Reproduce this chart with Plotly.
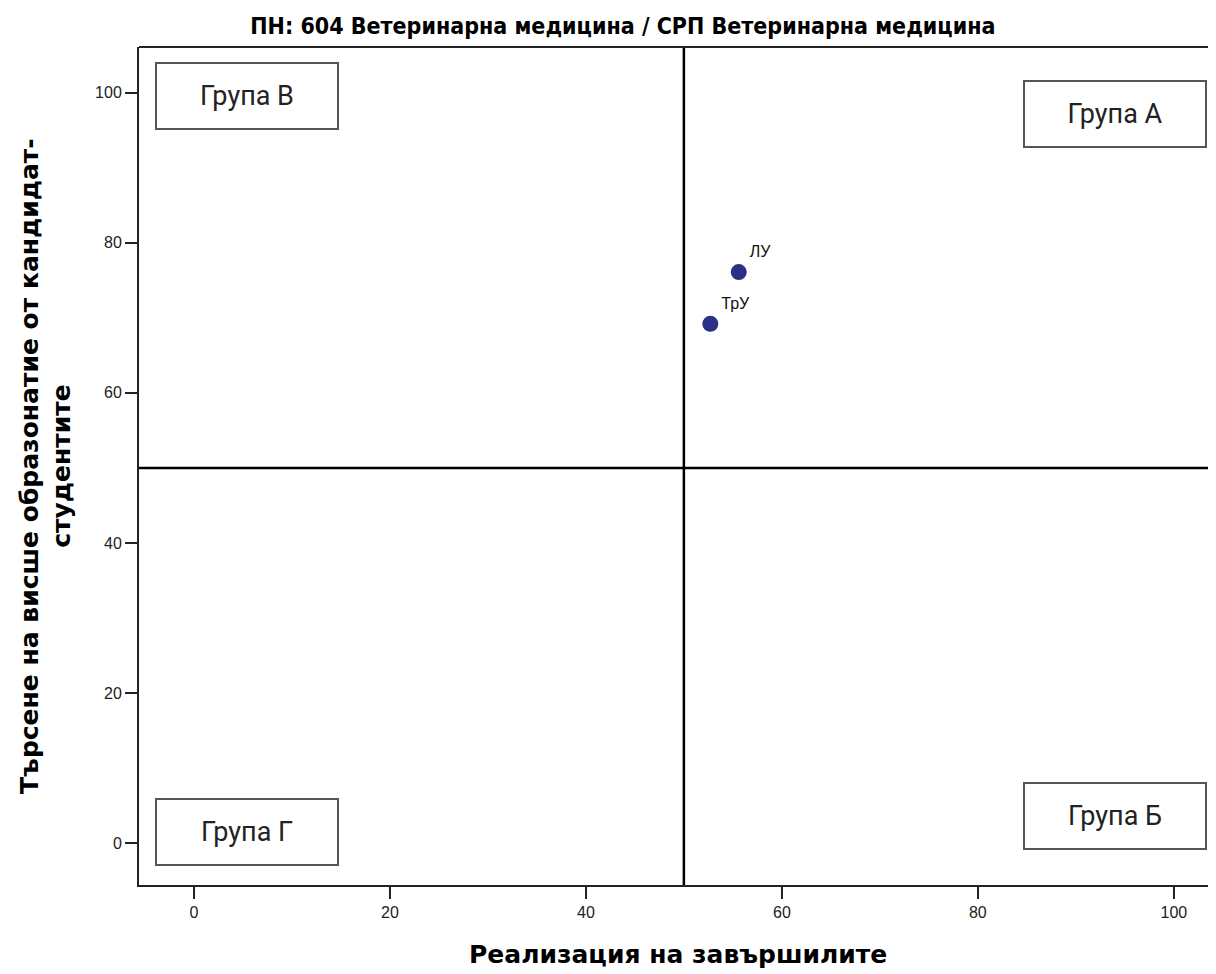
import plotly.graph_objects as go

# data
universities = ["ЛУ", "ТрУ"]
realization = [55.6, 52.7]
demand = [76.1, 69.2]

group_labels = ["Група В", "Група А", "Група Г", "Група Б"]
x_ticks = [0, 20, 40, 60, 80, 100]
y_ticks = [0, 20, 40, 60, 80, 100]

fig = go.Figure()

fig.add_trace(go.Scatter(
    x=realization, y=demand, mode="markers+text",
    text=universities, textposition="top right",
    textfont=dict(family="Liberation Sans, Arial", size=16, color="#111"),
    marker=dict(size=16, color="#2b2f86"),
    showlegend=False, cliponaxis=False,
))

# quadrant lines
fig.add_vline(x=50, line=dict(color="black", width=2.5))
fig.add_hline(y=50, line=dict(color="black", width=2.5))

# group boxes
box_pos = [(5.4, 99.6), (94.0, 97.2), (5.4, 1.5), (94.0, 3.6)]
for lab, (bx, by) in zip(group_labels, box_pos):
    fig.add_annotation(
        x=bx, y=by, xref="x", yref="y", text=lab, showarrow=False,
        font=dict(family="Roboto", size=27, color="#222"),
        bordercolor="#555", borderwidth=2, bgcolor="white",
        width=178, height=62, align="center", valign="middle",
    )

fig.update_xaxes(
    range=[-5.6, 104.3], tickvals=x_ticks, showgrid=False, zeroline=False,
    showline=True, linecolor="#222", linewidth=2, mirror=False,
    ticks="outside", ticklen=12, tickwidth=2, tickcolor="#222",
    tickfont=dict(family="Liberation Sans, Arial", size=16, color="#222"),
)
fig.update_yaxes(
    range=[-5.6, 106.1], tickvals=y_ticks, showgrid=False, zeroline=False,
    showline=True, linecolor="#222", linewidth=2,
    ticks="outside", ticklen=12, tickwidth=2, tickcolor="#222",
    tickfont=dict(family="Liberation Sans, Arial", size=16, color="#222"),
)

# top border
fig.add_shape(type="line", xref="paper", yref="paper", x0=0, x1=1, y0=1, y1=1,
              line=dict(color="#222", width=2))

fig.add_annotation(
    xref="paper", yref="paper", x=0.5, y=-0.0835, yanchor="middle",
    text="<b>Реализация на завършилите</b>", showarrow=False,
    font=dict(family="DejaVu Sans", size=25, color="black"),
)
fig.add_annotation(
    xref="paper", yref="paper", x=-0.0864, y=0.5, xanchor="center",
    text="<b>Търсене на висше образонатие от кандидат-<br>студентите</b>",
    showarrow=False, textangle=-90,
    font=dict(family="DejaVu Sans", size=25, color="black"),
)

fig.update_layout(
    width=1208, height=966,
    margin=dict(l=131, r=0, t=39, b=89),
    plot_bgcolor="white", paper_bgcolor="white",
    title=dict(
        text="<b>ПН: 604 Ветеринарна медицина / СРП Ветеринарна медицина</b>",
        x=0.509, xanchor="center", y=0.981, yanchor="middle",
        font=dict(family="DejaVu Sans Condensed, Liberation Sans Narrow", size=23, color="black"),
    ),
)

fig.write_html("out.html")
